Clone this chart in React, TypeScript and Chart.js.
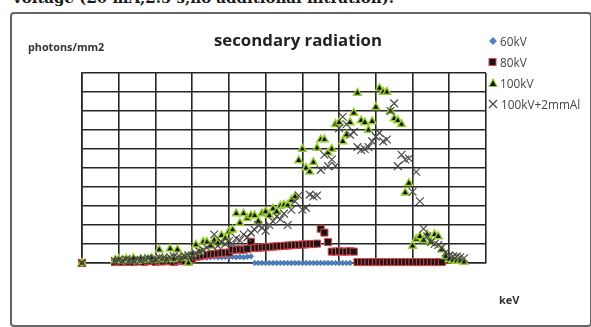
import { useEffect, useRef } from 'react';
import { Chart, registerables } from 'chart.js';

Chart.register(...registerables);

// x values (keV) shared by all series
const energyKeV = [
  0, 9, 10, 11, 12, 13, 14, 15, 16, 17, 18, 19, 20, 21, 22, 23, 24, 25, 26, 27, 28, 29,
  30, 31, 32, 33, 34, 35, 36, 37, 38, 39, 40, 41, 42, 43, 44, 45, 46, 47, 48, 49,
  50, 51, 52, 53, 54, 55, 56, 57, 58, 59, 60, 61, 62, 63, 64, 65, 66, 67, 68, 69,
  70, 71, 72, 73, 74, 75, 76, 77, 78, 79, 80, 81, 82, 83, 84, 85, 86, 87, 88, 89,
  90, 91, 92, 93, 94, 95, 96, 97, 98, 99, 100, 101, 102, 103, 104,
];

const seriesLabels = ['60kV', '80kV', '100kV', '100kV+2mmAl'];

const kv60: (number | null)[] = [
  0,
  null, null, null, null, null, null, null, null, null, null,
  0.35, 0.2,
  0.02, 0, 0.03, 0, 0.02, 0, 0.03, 0.02, 0, 0.05,
  0.25, 0.28, 0.3, 0.28, 0.3, 0.32, 0.3, 0.3, 0.32, 0.3, 0.33, 0.3, 0.32, 0.3, 0.33, 0.35,
  0, 0, 0, 0, 0, 0, 0, 0, 0, 0, 0, 0, 0, 0, 0, 0, 0, 0, 0, 0, 0, 0, 0, 0, 0, 0, 0,
  null, null, null, null, null, null, null, null, null, null, null, null, null, null, null, null,
  null, null, null, null, null, null, null, null, null, null, null, null, null, null, null,
];

const kv80: (number | null)[] = [
  0,
  0.05, 0.08, 0.05, 0.1, 0.06, 0.05, 0.1, 0.08, 0.05, 0.1, 0.12, 0.06, 0.1, 0.08, 0.12, 0.1, 0.05, 0.12, 0.15, 0.1, 0.05,
  0.2, 0.33, 0.35, 0.4, 0.42, 0.45, 0.47, 0.5, 0.52, 0.54, 0.55, 0.7, 0.7, 0.72, 0.7, 0.75,
  1.12,
  0.78, 0.8, 0.82, 0.83, 0.85, 0.86, 0.88, 0.89, 0.9, 0.92, 0.93, 0.95, 0.96, 0.97, 0.98, 1.0, 1.0, 1.02,
  1.8, 1.6, 1.1,
  0.6, 0.6, 0.62, 0.6, 0.6, 0.62, 0.6,
  0.05, 0.05, 0.05, 0.05, 0.05, 0.05, 0.05, 0.05, 0.05, 0.05, 0.05, 0.05,
  0.05, 0.05, 0.05, 0.05, 0.05, 0.05, 0.05, 0.05, 0.05, 0.05, 0.05, 0.05,
  null, null, null, null, null, null,
];

const kv100: (number | null)[] = [
  0,
  0.15, 0.2, 0.1, 0.2, 0.15, 0.25, 0.1, 0.2, 0.15, 0.2, 0.25, 0.15,
  0.7, 0.2, 0.2, 0.75, 0.2, 0.7, 0.25, 0.3, 0.0, 0.5,
  0.96, 0.6, 1.1, 1.1, 0.9, 1.2, 1.05, 1.45, 1.3, 1.65,
  1.75, 2.6, 2.1, 2.6, 2.35, 2.5, 2.5, 2.2, 2.6, 2.7,
  2.5, 2.85, 2.7, 3.0, 3.05, 3.05, 3.3, 3.5,
  5.4, 6.0, 5.0, 4.8, 5.3, 6.05, 6.5, 6.5, 5.8, 6.0,
  7.3, 7.4, 6.4, 6.75, 7.4, 7.9, 8.95, 7.5, 7.4, 7.0,
  7.45, 8.2, 9.2, 9.0, 9.0, 8.0, 7.6, 7.5, 7.3, 3.7, 4.2,
  0.9, 1.25, 1.4, 1.2, 1.5, 1.1, 1.5, 1.4, 0.7, 0.35, 0.2, 0.15, 0.1, 0.1, 0.05,
];

const kv100Al: (number | null)[] = [
  0,
  0.1, 0.15, 0.1, 0.2, 0.15, 0.1, 0.2, 0.15, 0.2, 0.25, 0.15, 0.2, 0.3, 0.25, 0.2, 0.3, 0.35, 0.3, 0.25, 0.35, 0.4,
  0.4, 0.5, 0.6, 0.7, 0.8, 1.0, 1.5, 0.9, 1.1, 1.0, 1.15, 1.0, 1.3, 1.2, 1.5, 1.35, 1.6, 1.75, 2.0, 1.85,
  1.7, 2.0, 2.2, 2.45, 2.3, 2.6,
  2.0, 2.8, 3.25, 3.55, 2.8, 2.9, 3.6, 3.5, 3.55, 4.9,
  5.7, 5.1, 5.45, 5.1, 7.1, 7.7, 7.3, 6.75, 6.9, 6.1,
  5.95, 6.0, 6.1, 6.4, 6.65, 6.85, 6.4, 6.5, 8.0, 8.4,
  5.1, 5.7, 5.45, 5.5, 3.75, 4.8, 3.25, 1.8, 1.4, 1.1,
  1.0, 0.95, 0.8, 0.55, 0.4, 0.35, 0.35, 0.3,
  0.25,
];

const xMin = 0;
const xMax = 110;
const xStep = 10;
const yMin = 0;
const yMax = 10;
const yStep = 1;

function toPoints(vals: (number | null)[]) {
  const pts: { x: number; y: number }[] = [];
  energyKeV.forEach((x, i) => {
    const v = vals[i];
    if (v !== null && v !== undefined) pts.push({ x, y: v });
  });
  return pts;
}

const gridColor = '#262626';

export default function App() {
  const ref = useRef<HTMLCanvasElement>(null);

  useEffect(() => {
    if (!ref.current) return;
    const chart = new Chart(ref.current, {
      type: 'scatter',
      data: {
        datasets: [
          {
            label: seriesLabels[0],
            data: toPoints(kv60),
            pointStyle: 'rectRot',
            pointRadius: 2.8,
            pointBackgroundColor: '#4f81bd',
            pointBorderColor: '#2c5d9c',
            pointBorderWidth: 0.6,
            order: 4,
            clip: false,
          },
          {
            label: seriesLabels[1],
            data: toPoints(kv80),
            pointStyle: 'rect',
            pointRadius: 5,
            pointBackgroundColor: '#161616',
            pointBorderColor: '#e0474c',
            pointBorderWidth: 1,
            order: 3,
            clip: false,
          },
          {
            label: seriesLabels[2],
            data: toPoints(kv100),
            pointStyle: 'triangle',
            pointRadius: 4.5,
            pointBackgroundColor: '#111111',
            pointBorderColor: '#9acd32',
            pointBorderWidth: 1.5,
            order: 2,
            clip: false,
          },
          {
            label: seriesLabels[3],
            data: toPoints(kv100Al),
            pointStyle: 'crossRot',
            pointRadius: 5.5,
            pointBackgroundColor: '#4a4a4a',
            pointBorderColor: '#4a4a4a',
            pointBorderWidth: 1.2,
            order: 1,
            clip: false,
          },
        ],
      } as any,
      options: {
        responsive: false,
        animation: false,
        devicePixelRatio: 1,
        events: [],
        layout: { padding: { left: 82, right: 105, top: 73, bottom: 64 } },
        plugins: {
          legend: { display: false },
          tooltip: { enabled: false },
          title: { display: false },
        },
        scales: {
          x: {
            type: 'linear',
            min: xMin,
            max: xMax,
            ticks: { display: false, stepSize: xStep },
            grid: { color: gridColor, lineWidth: 1.6, drawTicks: false },
            border: { display: true, color: gridColor, width: 1.6 },
          },
          y: {
            type: 'linear',
            min: yMin,
            max: yMax,
            ticks: { display: false, stepSize: yStep },
            grid: { color: gridColor, lineWidth: 1.6, drawTicks: false },
            border: { display: true, color: gridColor, width: 1.6 },
          },
        },
      },
    });
    return () => chart.destroy();
  }, []);

  const legendFont = '"Open Sans", "DejaVu Sans", sans-serif';

  return (
    <div style={{ position: 'fixed', left: 0, top: 0, width: 591, height: 327, background: '#fff', overflow: 'hidden' }}>
      <div
        style={{
          position: 'absolute', left: 13, top: -9, whiteSpace: 'nowrap',
          font: 'bold 15px "DejaVu Serif", serif', color: '#1a1a1a', lineHeight: '15px',
        }}
      >
        voltage (20 mA,2.5 s,no additional filtration).
      </div>
      <div
        style={{
          position: 'absolute', left: 10, top: 12, width: 578, height: 311,
          border: '2px solid #666', borderRadius: 4, boxSizing: 'content-box',
        }}
      />
      <canvas ref={ref} width={591} height={327} style={{ position: 'absolute', left: 0, top: 0, width: 591, height: 327 }} />
      <div style={{ position: 'absolute', left: 298, top: 30, transform: 'translateX(-50%)', whiteSpace: 'nowrap', font: `bold 16.8px ${legendFont}`, color: '#222', lineHeight: '20px' }}>
        secondary radiation
      </div>
      <div style={{ position: 'absolute', left: 28, top: 39, font: `bold 10.8px ${legendFont}`, color: '#333', whiteSpace: 'nowrap' }}>photons/mm2</div>
      <div style={{ position: 'absolute', left: 499, top: 292, font: `bold 11px ${legendFont}`, color: '#333', whiteSpace: 'nowrap' }}>keV</div>
      {seriesLabels.map((label, i) => {
        const cy = [40.7, 62.3, 83.3, 104][i];
        let marker: any = null;
        if (i === 0) marker = <polygon points="5,1.5 8.5,5 5,8.5 1.5,5" fill="#4f81bd" stroke="#2c5d9c" strokeWidth="0.6" />;
        if (i === 1) marker = <rect x="1" y="1.5" width="7" height="7" fill="#161616" stroke="#e0474c" strokeWidth="1" />;
        if (i === 2) marker = <polygon points="5,1 9,8.5 1,8.5" fill="#111" stroke="#9acd32" strokeWidth="1.2" />;
        if (i === 3) marker = (
          <g stroke="#4a4a4a" strokeWidth="1.3">
            <line x1="1" y1="1" x2="9" y2="9" />
            <line x1="9" y1="1" x2="1" y2="9" />
          </g>
        );
        return (
          <div key={label} style={{ position: 'absolute', left: 488, top: cy - 8, height: 16, display: 'flex', alignItems: 'center', whiteSpace: 'nowrap' }}>
            <svg width="10" height="10" style={{ marginRight: i === 3 ? 3 : 2 }}>{marker}</svg>
            <span style={{ font: `11.8px ${legendFont}`, color: '#444' }}>{label}</span>
          </div>
        );
      })}
    </div>
  );
}
